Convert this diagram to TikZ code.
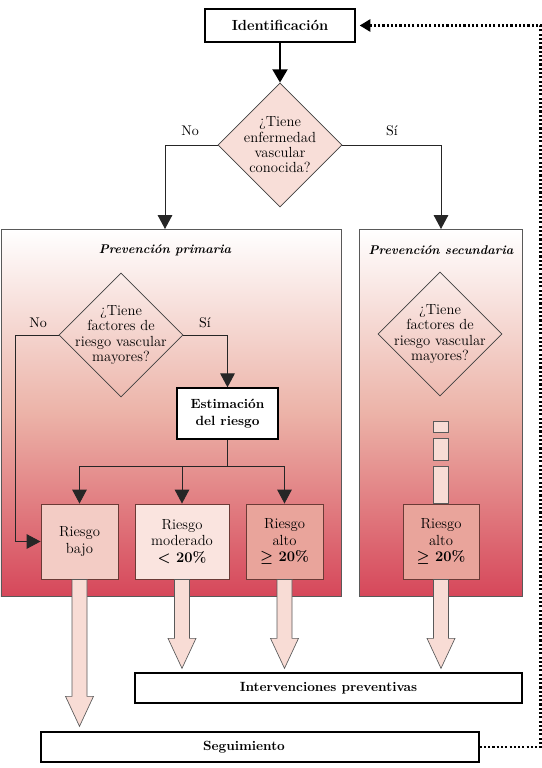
\documentclass[tikz,border=0pt]{standalone}
\usepackage{amsmath}
\usepackage{amssymb}
\usepackage{tikz}
\usetikzlibrary{shapes.geometric,arrows.meta,calc}
\definecolor{pinkfill}{HTML}{F8DED8}
\definecolor{bajofill}{HTML}{F3CCC5}
\definecolor{modfill}{HTML}{FAE4DF}
\definecolor{altofill}{HTML}{E9A49B}
\definecolor{riskline}{HTML}{6B3A36}
\definecolor{panelmid}{HTML}{ECB3A8}
\definecolor{panelbot}{HTML}{D6475A}
\definecolor{arrowfill}{HTML}{F8DCD5}
\newcommand{\bigarrow}[2]{%
  \draw[blockarrow] ($(#1)+(-7.5,0)$) -- ($(#2)+(-7.5,-30)$) -- ($(#2)+(-14,-30)$)
    -- (#2) -- ($(#2)+(14,-30)$) -- ($(#2)+(7.5,-30)$) -- ($(#1)+(7.5,0)$) -- cycle;}

\begin{document}
\begin{tikzpicture}[x=0.75pt,y=-0.75pt,font=\fontsize{10.5}{12}\selectfont,
  box/.style={draw=black,line width=1pt,fill=white,font=\bfseries,inner sep=0pt},
  quest/.style={diamond,draw=black!75,line width=0.5pt,inner sep=0pt,
    minimum width=93pt,minimum height=93pt},
  questtext/.style={align=center,font=\fontsize{11}{11.5}\selectfont},
  risk/.style={draw=riskline,line width=0.7pt,align=center,inner sep=0pt,
    minimum width=57.75pt,minimum height=56.25pt,font=\fontsize{11}{12.5}\selectfont},
  conn/.style={draw=black!85,line width=0.7pt},
  arr/.style={conn,-{Triangle[width=11pt,length=10.5pt]}},
  panel/.style={draw=black!65,line width=0.6pt,top color=white,bottom color=panelbot,
    middle color=panelmid,anchor=north west,inner sep=0pt},
  paneltitle/.style={font=\bfseries\itshape\fontsize{9.5}{11}\selectfont},
  blockarrow/.style={draw=black!65,line width=0.5pt,fill=arrowfill}]
\useasboundingbox (0,0) rectangle (542,768);

% paneles
\node[panel,minimum width=255pt,minimum height=275.25pt] (prim) at (0.5,229) {};
\node[panel,minimum width=122.25pt,minimum height=275.25pt] (sec) at (359,229) {};
\node[paneltitle] (ptit) at (165,250) {Prevención primaria};
\node[paneltitle] (stit) at (441,250) {Prevención secundaria};

\node[box,minimum width=112.5pt,minimum height=24.75pt,font=\bfseries\fontsize{11}{13}\selectfont]
  (ident) at (280,25.5) {Identificación};
\node[quest,fill=pinkfill,label={[questtext]center:¿Tiene\\enfermedad\\vascular\\conocida?}]
  (q1) at (280,145) {};
\draw[line width=2.2pt,-{Triangle[width=11pt,length=10pt]}] (ident) -- (q1);
\node (no1) at (190,131) {No};
\node (si1) at (392,131) {Sí};
\draw[arr] (q1.west) -| (ptit |- prim.north);
\draw[arr] (q1.east) -| (stit |- sec.north);

\node[quest,label={[questtext]center:¿Tiene\\factores de\\riesgo vascular\\mayores?}]
  (q2) at (121,335) {};
\node (no2) at (38,323) {No};
\node (si2) at (205,323) {Sí};
\node[quest,label={[questtext]center:¿Tiene\\factores de\\riesgo vascular\\mayores?}]
  (q3) at (440,334) {};

\node[box,align=center,minimum width=75.75pt,minimum height=38.25pt,
  font=\bfseries\fontsize{10}{12.5}\selectfont] (est) at (227.5,413.5) {Estimación\\del riesgo};
\draw[arr] (q2.east) -| (est.north);

\node[risk,fill=bajofill] (bajo) at (79.5,541.5) {Riesgo\\bajo};
\node[risk,fill=modfill,minimum width=70.5pt] (mod) at (182,541.5) {Riesgo\\moderado\\\textbf{{\boldmath$<$} 20\%}};
\node[risk,fill=altofill] (alto) at (284.5,541.5) {Riesgo\\alto\\\textbf{{\boldmath$\geq$} 20\%}};
\draw[arr] (q2.west) -| ($(bajo.west)+(-25,0)$) -- (bajo.west);
\coordinate (forky) at (0,466);
\draw[conn] (est.south) -- (est.south |- forky) coordinate (fork);
\draw[arr] (fork) -| (bajo.north);
\draw[arr] (fork) -| (alto.north);
\draw[arr] (fork -| mod.north) -- (mod.north);

% secundaria
\node[risk,fill=altofill,minimum width=57pt] (salto) at (441,541.5) {Riesgo\\alto\\\textbf{{\boldmath$\geq$} 20\%}};
\foreach \ya/\yb in {82/71,65/43,37/0}
  \draw[blockarrow] ($(salto.north)+(-7.5,-\ya)$) rectangle ($(salto.north)+(7.5,-\yb)$);

\node[box,minimum width=290.25pt,minimum height=22.5pt] (inter) at (328.5,688) {Intervenciones preventivas};
\node[box,minimum width=328.5pt,minimum height=22.5pt,
  label={[font=\bfseries,xshift=-12pt]center:Seguimiento}] (seg) at (260,747) {};

\coordinate (tbajo) at ($(seg.north -| bajo.south)+(0,-5)$);
\coordinate (tmod) at ($(inter.north -| mod.south)+(0,-4)$);
\coordinate (talto) at ($(inter.north -| alto.south)+(0,-4)$);
\coordinate (tsalto) at ($(inter.north -| salto.south)+(0,-4)$);
\bigarrow{bajo.south}{tbajo}
\bigarrow{mod.south}{tmod}
\bigarrow{alto.south}{talto}
\bigarrow{salto.south}{tsalto}

\draw[line width=1.9pt,dash pattern=on 1.6pt off 1.6pt,shorten >=3pt,
  -{Triangle[width=9pt,length=8pt]}] (seg.east) -- ++(61,0) |- (ident.east);
\end{tikzpicture}
\end{document}
